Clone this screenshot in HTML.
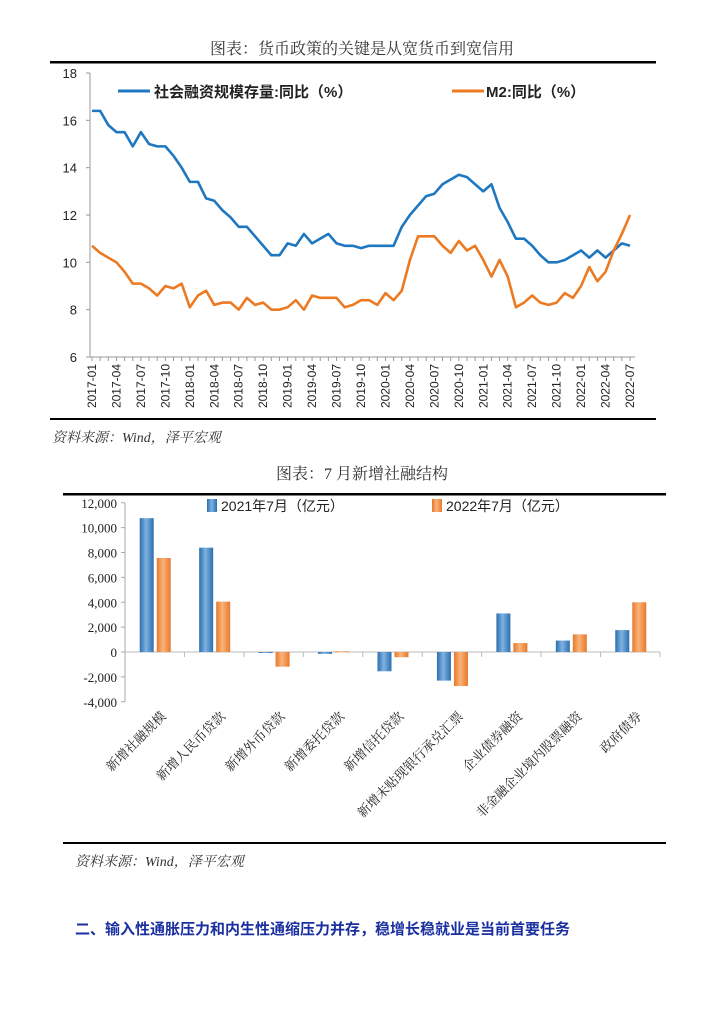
<!DOCTYPE html>
<html><head><meta charset="utf-8"><style>
body{margin:0;background:#fff;width:724px;height:1024px;overflow:hidden}
svg text{font-family:"Liberation Sans","Noto Sans CJK SC",sans-serif}
.serif{font-family:"Liberation Serif","Noto Serif CJK SC",serif!important}
</style></head><body>
<svg id="s" width="724" height="1024" xmlns="http://www.w3.org/2000/svg">
<defs>
<linearGradient id="gb" x1="0" x2="1"><stop offset="0" stop-color="#2a6fb0"/><stop offset="0.45" stop-color="#7fb2e0"/><stop offset="1" stop-color="#2a6fb0"/></linearGradient>
<linearGradient id="go" x1="0" x2="1"><stop offset="0" stop-color="#e8782a"/><stop offset="0.45" stop-color="#f8b47a"/><stop offset="1" stop-color="#e8782a"/></linearGradient>
</defs>
<text class="serif" x="362" y="54" font-size="16" text-anchor="middle" fill="#333">图表：货币政策的关键是从宽货币到宽信用</text>
<rect x="50" y="61" width="606" height="2.5" fill="#000"/>
<rect x="50" y="418" width="606" height="2" fill="#000"/>
<text class="serif" x="52" y="442" font-size="14" font-style="italic" fill="#333">资料来源：Wind，泽平宏观</text>
<g id="c1"></g>
<text class="serif" x="362" y="479" font-size="16" text-anchor="middle" fill="#333">图表：7 月新增社融结构</text>
<rect x="63" y="493" width="603" height="2.5" fill="#000"/>
<rect x="63" y="842" width="603" height="2" fill="#000"/>
<text class="serif" x="75" y="866" font-size="14" font-style="italic" fill="#333">资料来源：Wind，泽平宏观</text>
<g id="c2"></g>
<text x="75" y="934" font-size="15" font-weight="bold" fill="#1a2fa0">二、输入性通胀压力和内生性通缩压力并存，稳增长稳就业是当前首要任务</text>
</svg>
<script>
const tsf=[16.4,16.4,15.8,15.5,15.5,14.9,15.5,15.0,14.9,14.9,14.5,14.0,13.4,13.4,12.7,12.6,12.2,11.9,11.5,11.5,11.1,10.7,10.3,10.3,10.8,10.7,11.2,10.8,11.0,11.2,10.8,10.7,10.7,10.6,10.7,10.7,10.7,10.7,11.5,12.0,12.4,12.8,12.9,13.3,13.5,13.7,13.6,13.3,13.0,13.3,12.3,11.7,11.0,11.0,10.7,10.3,10.0,10.0,10.1,10.3,10.5,10.2,10.5,10.2,10.5,10.8,10.7];
const m2=[10.7,10.4,10.2,10.0,9.6,9.1,9.1,8.9,8.6,9.0,8.9,9.1,8.1,8.6,8.8,8.2,8.3,8.3,8.0,8.5,8.2,8.3,8.0,8.0,8.1,8.4,8.0,8.6,8.5,8.5,8.5,8.1,8.2,8.4,8.4,8.2,8.7,8.4,8.8,10.1,11.1,11.1,11.1,10.7,10.4,10.9,10.5,10.7,10.1,9.4,10.1,9.4,8.1,8.3,8.6,8.3,8.2,8.3,8.7,8.5,9.0,9.8,9.2,9.6,10.5,11.2,12.0];
const yTicks1=[6,8,10,12,14,16,18];
const cats=["新增社融规模","新增人民币贷款","新增外币贷款","新增委托贷款","新增信托贷款","新增未贴现银行承兑汇票","企业债券融资","非金融企业境内股票融资","政府债券"];
const v2021=[10760,8390,-80,-150,-1550,-2300,3100,920,1760];
const v2022=[7560,4050,-1180,60,-420,-2740,720,1420,4000];
const yTicks2=[-4000,-2000,0,2000,4000,6000,8000,10000,12000];
const NS="http://www.w3.org/2000/svg";
function mk(p,t,a){const e=document.createElementNS(NS,t);for(const k in a)e.setAttribute(k,a[k]);p.appendChild(e);return e;}
// chart 1
const c1=document.getElementById('c1');
const x1=i=>92+i*(630-92)/66, y1=v=>357-(v-6)*(357-73)/12;
let e=mk(c1,'line',{x1:90,y1:73,x2:90,y2:357,stroke:'#999'});

e=mk(c1,'line',{x1:90,y1:357,x2:635,y2:357,stroke:'#999'});

yTicks1.forEach(t=>{const l=mk(c1,'line',{x1:86,x2:90,y1:y1(t),y2:y1(t),stroke:'#999'});

const tx=mk(c1,'text',{x:77,y:y1(t)+5,'font-size':13,'text-anchor':'end',fill:'#222'});tx.textContent=t;
});
for(let i=0;i<67;i++){const l=mk(c1,'line',{x1:x1(i),x2:x1(i),y1:357,y2:361,stroke:'#999'});

if(i%3==0){const y=2017+Math.floor(i/12),m=i%12+1;const tx=mk(c1,'text',{x:0,y:0,'font-size':12,'text-anchor':'end',fill:'#222',transform:`translate(${x1(i)+4},${364}) rotate(-90)`});
tx.textContent=y+'-'+String(m).padStart(2,'0');}}
function line(d,c,n){const p=mk(c1,'polyline',{points:d.map((v,i)=>x1(i)+','+y1(v)).join(' '),fill:'none',stroke:c,'stroke-width':2.6,'stroke-linejoin':'round'});
}
line(tsf,'#1f77c0','tsf-line');line(m2,'#ec7a22','m2-line');
e=mk(c1,'line',{x1:118,x2:150,y1:91,y2:91,stroke:'#1f77c0','stroke-width':3});
e=mk(c1,'text',{x:154,y:97,'font-size':15,'font-weight':'bold',fill:'#222'});e.textContent='社会融资规模存量:同比（%）';
e=mk(c1,'line',{x1:452,x2:484,y1:91,y2:91,stroke:'#ec7a22','stroke-width':3});
e=mk(c1,'text',{x:486,y:97,'font-size':15,'font-weight':'bold',fill:'#222'});e.textContent='M2:同比（%）';
// chart 2
const c2=document.getElementById('c2');
const y2=v=>652-v*(702-503)/16000/1*1, cw=(660-125)/9, cx=i=>125+cw*(i+0.5);
e=mk(c2,'line',{x1:125,y1:503,x2:125,y2:702,stroke:'#aaa'});
e=mk(c2,'line',{x1:125,y1:y2(0),x2:660,y2:y2(0),stroke:'#bbb'});
yTicks2.forEach(t=>{const l=mk(c2,'line',{x1:121,x2:125,y1:y2(t),y2:y2(t),stroke:'#aaa'});
const tx=mk(c2,'text',{x:117,y:y2(t)+5,'font-size':13,'text-anchor':'end',fill:'#222',class:'serif'});tx.textContent=t.toLocaleString('en-US');
});
cats.forEach((c,i)=>{const tk=mk(c2,'line',{x1:125+cw*(i+1),x2:125+cw*(i+1),y1:y2(0),y2:y2(0)+5,stroke:'#bbb'});
[[v2021[i],'url(#gb)',-15,'bar-2021'],[v2022[i],'url(#go)',2,'bar-2022']].forEach(([v,f,o,n])=>{const r=mk(c2,'rect',{x:cx(i)+o,y:Math.min(y2(v),y2(0)),width:14,height:Math.max(1,Math.abs(y2(v)-y2(0))),fill:f});
});
const tx=mk(c2,'text',{x:0,y:0,'font-size':13,'text-anchor':'end',fill:'#222',class:'serif',transform:`translate(${cx(i)+12},${717}) rotate(-45)`});tx.textContent=c;
});
e=mk(c2,'rect',{x:207,y:499,width:10,height:13,fill:'url(#gb)'});
e=mk(c2,'text',{x:221,y:511,'font-size':14,fill:'#222'});e.textContent='2021年7月（亿元）';
e=mk(c2,'rect',{x:432,y:499,width:10,height:13,fill:'url(#go)'});
e=mk(c2,'text',{x:446,y:511,'font-size':14,fill:'#222'});e.textContent='2022年7月（亿元）';
</script>
</body></html>
